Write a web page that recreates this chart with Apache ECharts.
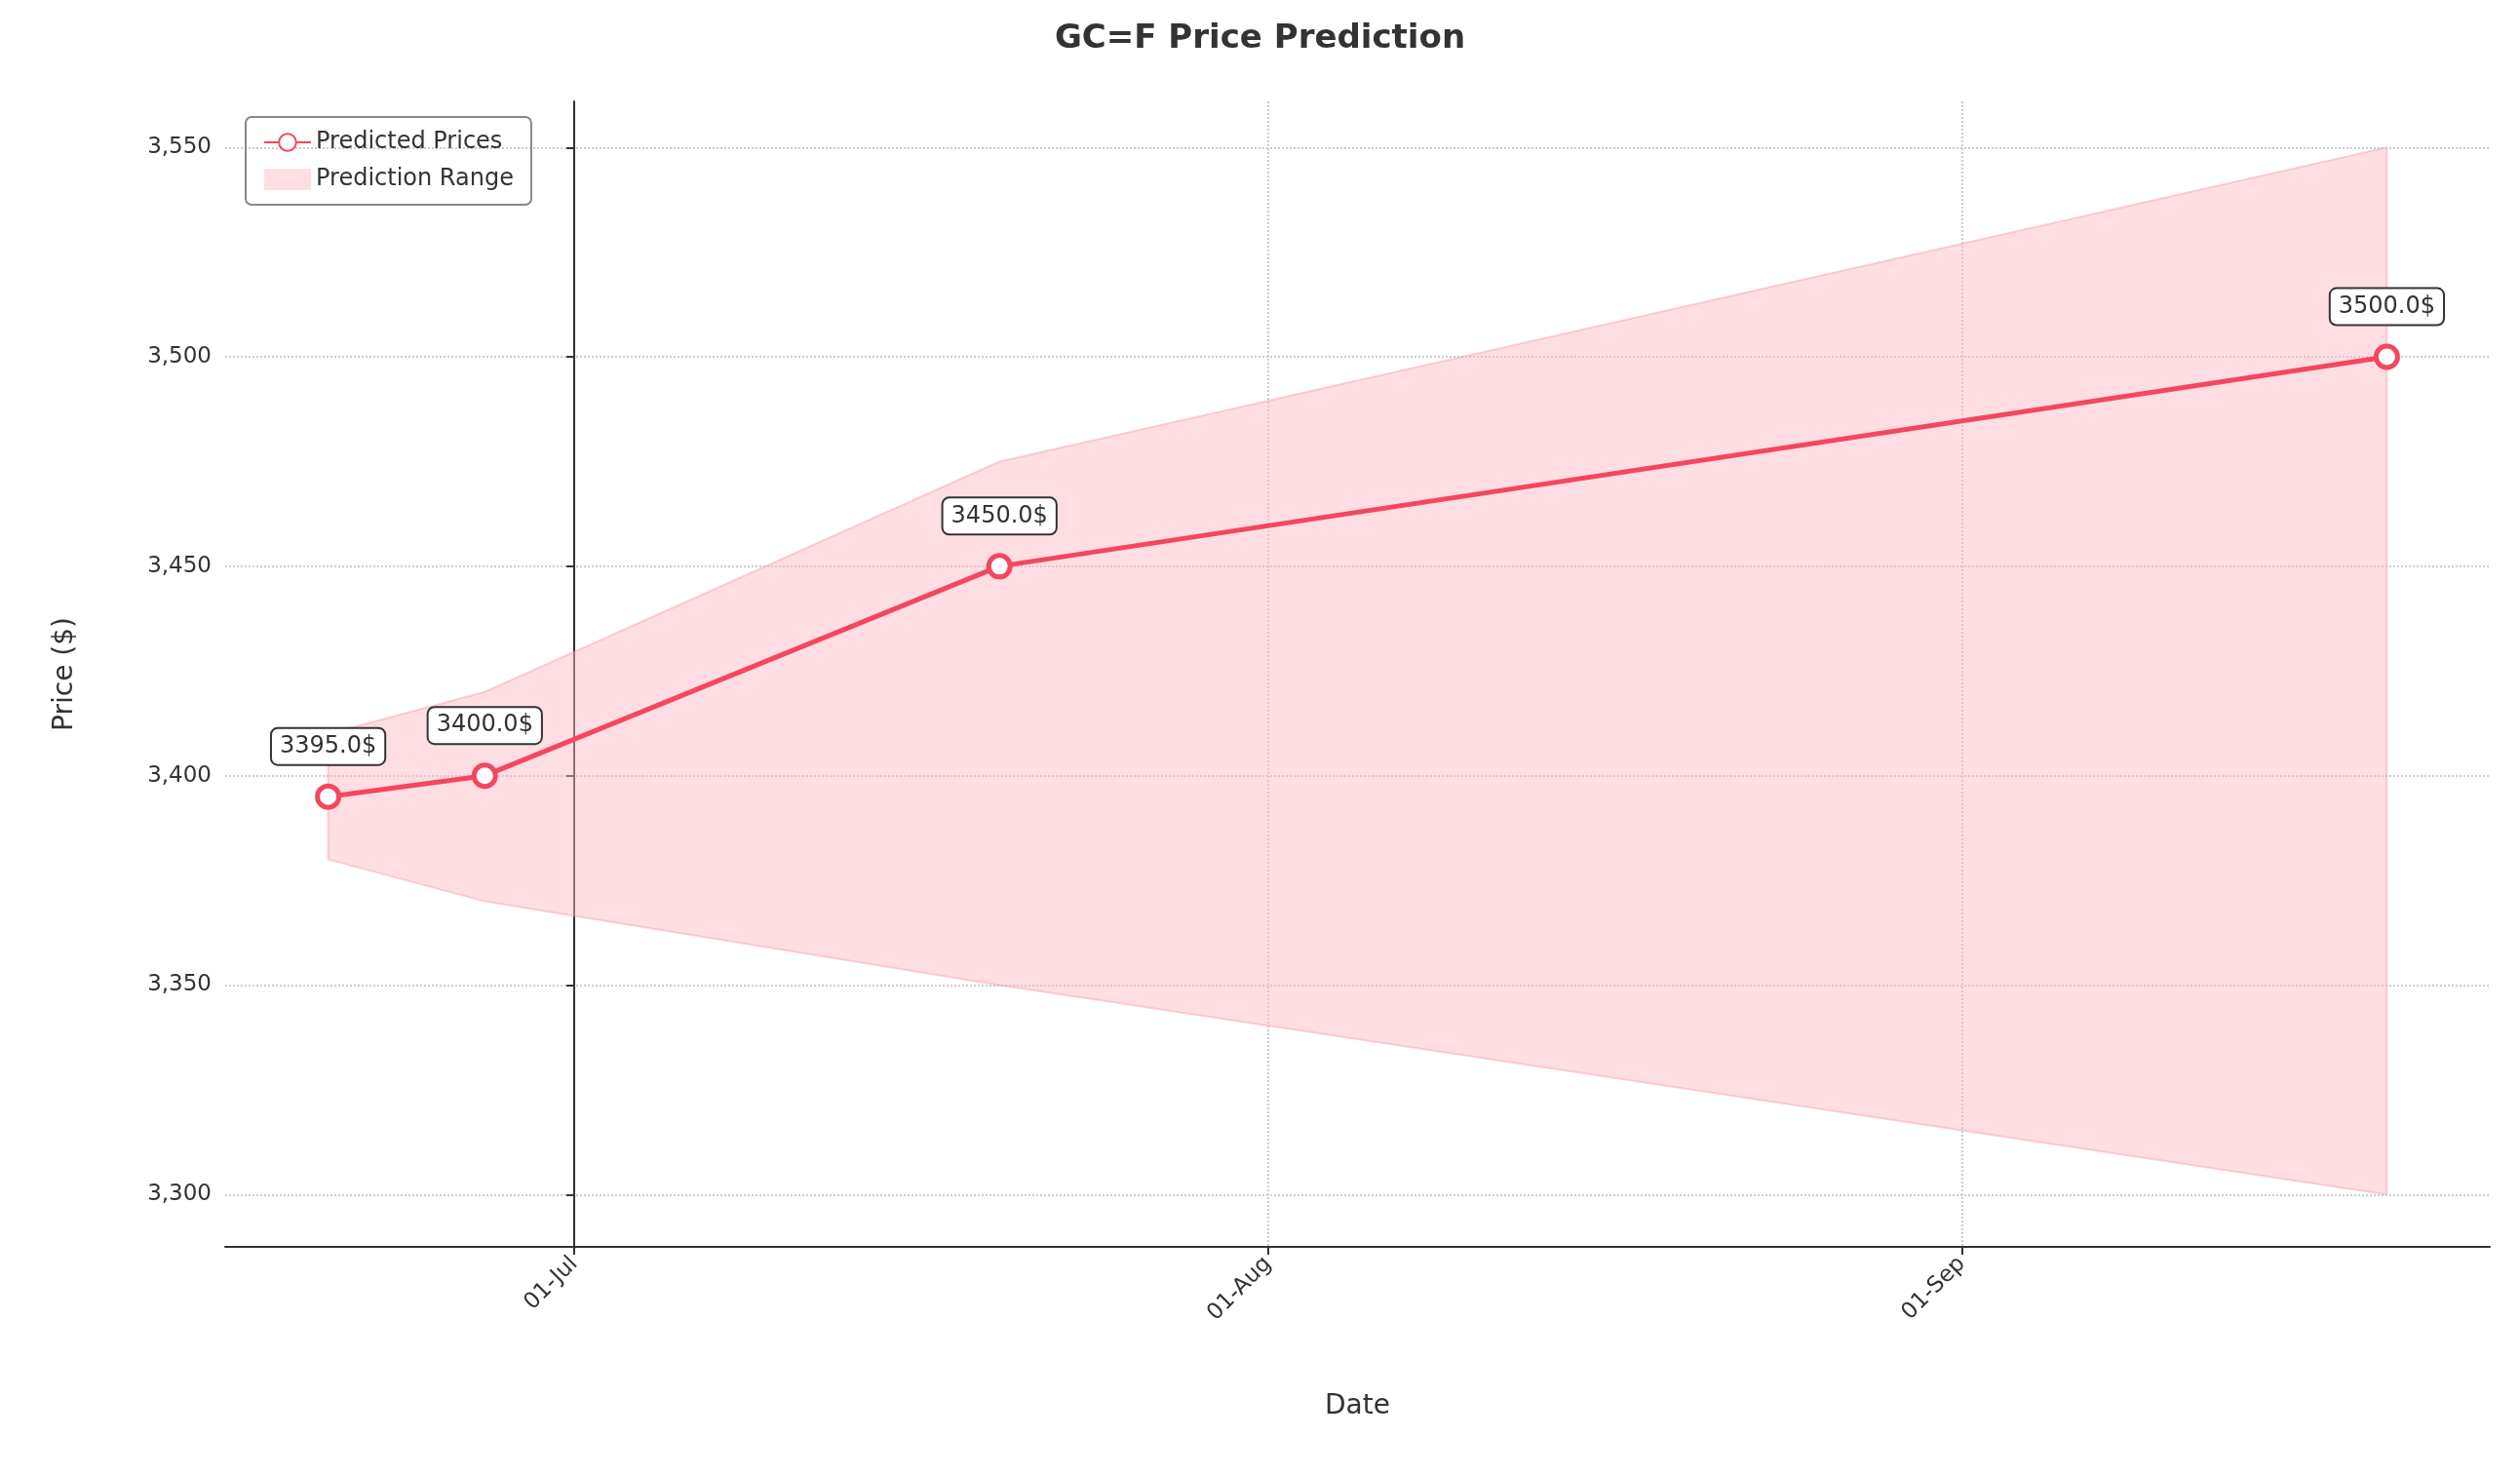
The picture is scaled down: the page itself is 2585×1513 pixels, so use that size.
<!DOCTYPE html>
<html>
<head>
<meta charset="utf-8">
<script src="https://cdn.jsdelivr.net/npm/echarts@6/dist/echarts.min.js"></script>
<style>html,body{margin:0;padding:0;background:#fff}#main{width:2585px;height:1513px}</style>
</head>
<body>
<div id="main"></div>
<script>
// data
var dates = ['2025-06-20', '2025-06-27', '2025-07-20', '2025-09-20'];
var predicted = [3395, 3400, 3450, 3500];
var lower = [3380, 3370, 3350, 3300];
var upper = [3410, 3420, 3475, 3550];
var tickDates = ['2025-07-01', '2025-08-01', '2025-09-01'];
var yTicks = [3300, 3350, 3400, 3450, 3500, 3550];

// x axis runs in days counted from 01-Jul
var DAY = 86400000;
var base = new Date('2025-07-01T00:00:00Z').getTime();
function dayOf(s) { return (new Date(s + 'T00:00:00Z').getTime() - base) / DAY; }
var mainPts = dates.map(function (d, i) { return [dayOf(d), predicted[i]]; });
var bandPts = dates.map(function (d, i) { return [dayOf(d), lower[i], upper[i]]; });
var ticks = tickDates.map(dayOf);
var mon = ['Jan','Feb','Mar','Apr','May','Jun','Jul','Aug','Sep','Oct','Nov','Dec'];

var red = '#F4475F';
var txt = '#333333';
var font = 'DejaVu Sans';

var chart = echarts.init(document.getElementById('main'));
chart.setOption({
  animation: false,
  textStyle: { fontFamily: font },
  title: {
    text: 'GC=F Price Prediction', left: 'center', top: 18,
    textStyle: { fontSize: 34, fontWeight: 'bold', color: txt, fontFamily: font }
  },
  legend: {
    left: 252, top: 120, orient: 'vertical', itemGap: 14,
    borderColor: '#888', borderWidth: 2, borderRadius: 6, padding: [14, 18],
    itemWidth: 48, itemHeight: 22,
    textStyle: { fontSize: 24, color: txt },
    data: [{ name: 'Predicted Prices' }, { name: 'Prediction Range', icon: 'rect' }]
  },
  grid: { left: 231, right: 31, top: 104, bottom: 234 },
  xAxis: {
    type: 'value', min: -15.6, max: 85.6,
    name: 'Date', nameLocation: 'middle', nameGap: 150,
    nameTextStyle: { fontSize: 28, color: txt },
    axisLine: { lineStyle: { color: txt, width: 2 } },
    axisTick: { show: true, customValues: ticks, length: 8, lineStyle: { color: txt, width: 2 } },
    axisLabel: {
      customValues: ticks, rotate: 45, fontSize: 23, color: txt, margin: 14,
      formatter: function (v) {
        var d = new Date(base + v * DAY);
        return ('0' + d.getUTCDate()).slice(-2) + '-' + mon[d.getUTCMonth()];
      }
    },
    splitLine: { show: true, lineStyle: { type: 'dotted', color: '#cccccc', width: 2 } }
  },
  yAxis: {
    type: 'value', min: 3287.5, max: 3561,
    name: 'Price ($)', nameLocation: 'middle', nameGap: 150,
    nameTextStyle: { fontSize: 28, color: txt },
    axisLine: { show: true, lineStyle: { color: txt, width: 2 } },
    axisTick: { show: true, customValues: yTicks, length: 8, lineStyle: { color: txt, width: 2 } },
    axisLabel: { customValues: yTicks, fontSize: 23, color: txt, margin: 14 },
    splitLine: { show: true, lineStyle: { type: 'dotted', color: '#cccccc', width: 2 } }
  },
  series: [
    {
      name: 'Prediction Range', type: 'custom',
      itemStyle: { color: 'rgba(255,182,193,0.45)', borderColor: 'rgba(240,150,165,0.4)' },
      data: [[0, 3400]],
      renderItem: function (params, api) {
        var top = bandPts.map(function (p) { return api.coord([p[0], p[2]]); });
        var bot = bandPts.slice().reverse().map(function (p) { return api.coord([p[0], p[1]]); });
        return {
          type: 'polygon',
          shape: { points: top.concat(bot) },
          style: { fill: 'rgba(255,182,193,0.45)', stroke: 'rgba(240,150,165,0.4)', lineWidth: 2 }
        };
      },
      z: 1
    },
    {
      name: 'Predicted Prices', type: 'line', data: mainPts,
      symbol: 'circle', symbolSize: 22,
      lineStyle: { color: red, width: 5 },
      itemStyle: { color: '#fff', borderColor: red, borderWidth: 5 },
      label: {
        show: true, position: 'top', distance: 20,
        formatter: function (p) { return p.value[1].toFixed(1) + '$'; },
        fontSize: 24, color: txt, backgroundColor: '#fff',
        borderColor: txt, borderWidth: 2, borderRadius: 6, padding: [6, 8]
      },
      z: 3
    }
  ]
});
</script>
</body>
</html>
